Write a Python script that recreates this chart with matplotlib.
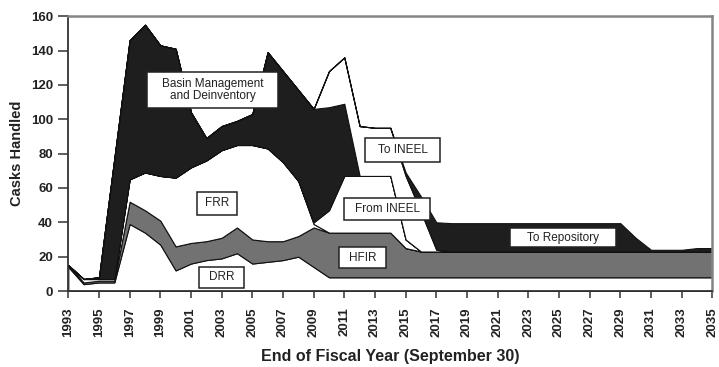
import matplotlib
matplotlib.use("Agg")
import matplotlib.pyplot as plt
from matplotlib.patches import Rectangle

plt.rcParams['font.family'] = ['Liberation Sans', 'DejaVu Sans']

# Casks handled per fiscal year, by activity (stacked from the bottom up)
years = list(range(1993, 2036))

drr = [14, 4, 5, 5, 39, 34, 27, 12, 16, 18, 19, 22, 16, 17, 18, 20, 14,
       8, 8, 8, 8, 8, 8, 8, 8] + [8] * 18
hfir = [1, 1, 1, 1, 13, 13, 14, 14, 12, 11, 12, 15, 14, 12, 11, 12, 23,
        26, 26, 26, 26, 26, 17, 15, 15] + [15] * 18
frr = [0, 2, 1, 1, 13, 22, 26, 40, 44, 47, 51, 48, 55, 54, 46, 32, 2] + [0] * 26
from_ineel = [0] * 16 + [1, 13, 33, 33, 33, 33, 5] + [0] * 20
basin = [0, 0, 1, 70, 81, 86, 76, 75, 32, 13, 14, 14, 18, 56, 53, 53, 66,
         60, 42] + [0] * 24
to_ineel = [0] * 17 + [21, 27, 29, 28, 28, 37, 23, 1] + [0] * 18
to_repository = [0] * 22 + [2, 9, 16] + [16.5] * 12 + [8, 1, 1, 1, 2, 2]

xtick_years = list(range(1993, 2036, 2))
ytick_values = list(range(0, 161, 20))

WHITE = '#ffffff'
GRAY = '#727272'
BLACK = '#1e1e1e'
INK = '#222222'

fig = plt.figure(figsize=(7.19, 3.67), dpi=100)
ax = fig.add_axes([0.095, 0.207, 0.8957, 0.749])

ax.stackplot(years, drr, hfir, frr, from_ineel, basin, to_ineel, to_repository,
             colors=[WHITE, GRAY, WHITE, WHITE, BLACK, WHITE, BLACK],
             edgecolor='#111111', linewidth=0.8)

ax.set_xlim(1993, 2035)
ax.set_ylim(0, 160)
ax.set_xticks(xtick_years)
ax.set_xticklabels([str(y) for y in xtick_years], rotation=90,
                   fontsize=9.5, fontweight='bold', color=INK)
ax.set_yticks(ytick_values)
ax.set_yticklabels([str(v) for v in ytick_values], fontsize=9.5,
                   fontweight='bold', color=INK)
ax.tick_params(axis='x', direction='out', length=5, width=1.1, pad=7,
               color='#333333')
ax.tick_params(axis='y', direction='out', length=7, width=1.1, pad=4,
               color='#333333')

for side in ('left', 'bottom'):
    ax.spines[side].set_color('#333333')
    ax.spines[side].set_linewidth(1.3)
for side in ('top', 'right'):
    ax.spines[side].set_color('#858585')
    ax.spines[side].set_linewidth(1.8)

ax.set_xlabel('End of Fiscal Year (September 30)', fontsize=11.5,
              fontweight='bold', color=INK, labelpad=8)
ax.set_ylabel('Casks Handled', fontsize=10.5, fontweight='bold',
              color=INK, labelpad=5)


def boxed_label(xc, yc, width, height, text):
    """White box with a dark border and centred text, in data units."""
    ax.add_patch(Rectangle((xc - width / 2, yc - height / 2), width, height,
                           facecolor='white', edgecolor=INK,
                           linewidth=1.1, zorder=5))
    ax.text(xc, yc, text, ha='center', va='center', fontsize=8.5,
            color=INK, linespacing=1.05, zorder=6)


boxed_label(2002.4, 117, 8.5, 21, 'Basin Management\nand Deinventory')
boxed_label(2002.7, 51, 2.65, 13.4, 'FRR')
boxed_label(2003.0, 8, 2.9, 12.2, 'DRR')
boxed_label(2012.2, 19.5, 3.05, 12.2, 'HFIR')
boxed_label(2013.8, 47.7, 5.6, 12.8, 'From INEEL')
boxed_label(2014.8, 82, 4.9, 14, 'To INEEL')
boxed_label(2025.25, 31, 6.9, 11, 'To Repository')

fig.savefig('out.png', dpi=100, facecolor='white')
